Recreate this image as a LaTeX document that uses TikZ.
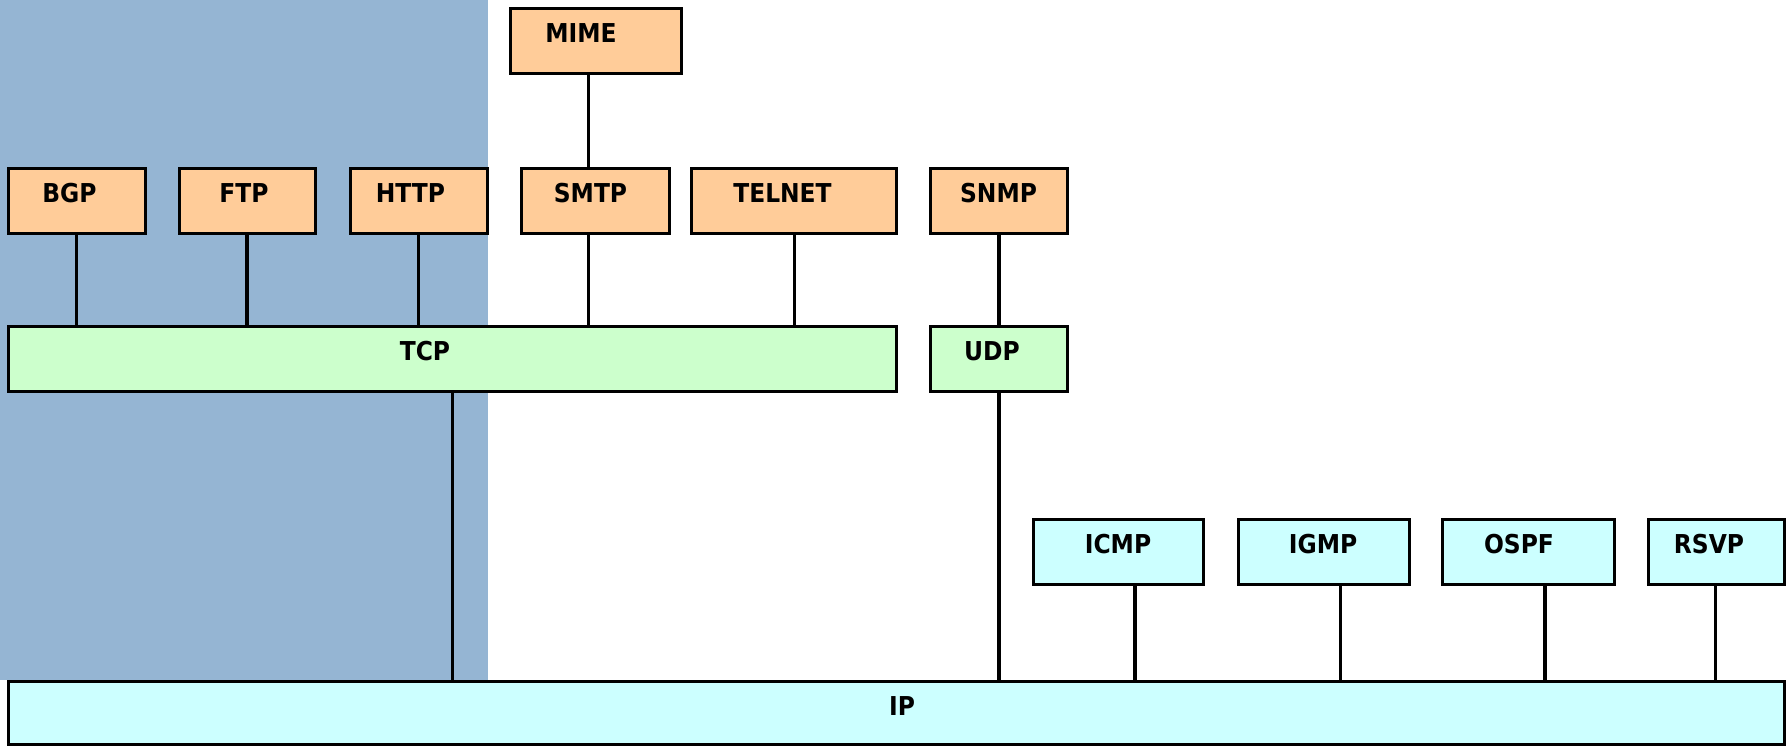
\documentclass[tikz,border=0pt]{standalone}
\usepackage{fontspec}
\newfontfamily\lblfont{DejaVu Sans}[FakeStretch=0.9]
\definecolor{bgblue}{RGB}{149,181,211}
\definecolor{appfill}{RGB}{255,204,153}
\definecolor{trfill}{RGB}{204,255,204}
\definecolor{netfill}{RGB}{204,255,255}
\begin{document}
\begin{tikzpicture}[x=1pt,y=-1pt,
  box/.style={draw=black, line width=3.4pt, rectangle, inner sep=0pt, anchor=north west},
  app/.style={box, fill=appfill},
  tr/.style={box, fill=trfill},
  net/.style={box, fill=netfill},
  lbl/.style={anchor=base, inner sep=0pt, font=\lblfont\bfseries\fontsize{26}{30}\selectfont},
  conn/.style={draw=black, line width=3.4pt}]
\useasboundingbox (0,0) rectangle (1792,745);
\fill[bgblue] (0,0) rectangle (488,680);
\begin{scope}[shift={(-1,-1)}]
% boxes
\node[app, minimum width=171pt, minimum height=65pt] (mime) at (510,8) {};
\node[app, minimum width=137pt, minimum height=65pt] (bgp) at (8,168) {};
\node[app, minimum width=136pt, minimum height=65pt] (ftp) at (179,168) {};
\node[app, minimum width=137pt, minimum height=65pt] (http) at (350,168) {};
\node[app, minimum width=148pt, minimum height=65pt] (smtp) at (521,168) {};
\node[app, minimum width=205pt, minimum height=65pt] (telnet) at (691,168) {};
\node[app, minimum width=137pt, minimum height=65pt] (snmp) at (930,168) {};
\node[tr, minimum width=888pt, minimum height=65pt] (tcp) at (8,326) {};
\node[tr, minimum width=137pt, minimum height=65pt] (udp) at (930,326) {};
\node[net, minimum width=170pt, minimum height=65pt] (icmp) at (1033,519) {};
\node[net, minimum width=171pt, minimum height=65pt] (igmp) at (1238,519) {};
\node[net, minimum width=172pt, minimum height=65pt] (ospf) at (1442,519) {};
\node[net, minimum width=136pt, minimum height=65pt] (rsvp) at (1648,519) {};
\node[net, minimum width=1776pt, minimum height=63pt] (ip) at (8,681) {};
% labels
\node[lbl] (tmime) at (582,43) {MIME};
\node[lbl] (tbgp) at (70.5,203) {BGP};
\node[lbl] (tftp) at (245,203) {FTP};
\node[lbl] (thttp) at (411.5,203) {HTTP};
\node[lbl] (tsmtp) at (591.5,203) {SMTP};
\node[lbl] (ttelnet) at (783.5,203) {TELNET};
\node[lbl] (tsnmp) at (999.5,203) {SNMP};
\node[lbl] (ttcp) at (426,361) {TCP};
\node[lbl] (tudp) at (993,361) {UDP};
\node[lbl] (ticmp) at (1119,554) {ICMP};
\node[lbl] (tigmp) at (1324,554) {IGMP};
\node[lbl] (tospf) at (1520,554) {OSPF};
\node[lbl] (trsvp) at (1710,554) {RSVP};
\node[lbl] (tip) at (903,716) {IP};
% connector x positions
\coordinate (xsmtp) at (589.6,0);
\coordinate (xbgp) at (77.6,0);
\coordinate (xftp) at (248,0);
\coordinate (xhttp) at (419.3,0);
\coordinate (xtelnet) at (795.3,0);
\coordinate (xsnmp) at (1000,0);
\coordinate (xtcp) at (453.6,0);
\coordinate (xicmp) at (1136,0);
\coordinate (xigmp) at (1341.6,0);
\coordinate (xospf) at (1546,0);
\coordinate (xrsvp) at (1716.4,0);
% connectors
\draw[conn] (mime.south -| xsmtp) -- (smtp.north -| xsmtp);
\draw[conn] (bgp.south -| xbgp) -- (tcp.north -| xbgp);
\draw[conn] (ftp.south -| xftp) -- (tcp.north -| xftp);
\draw[conn] (http.south -| xhttp) -- (tcp.north -| xhttp);
\draw[conn] (smtp.south -| xsmtp) -- (tcp.north -| xsmtp);
\draw[conn] (telnet.south -| xtelnet) -- (tcp.north -| xtelnet);
\draw[conn] (snmp.south -| xsnmp) -- (udp.north -| xsnmp);
\draw[conn] (tcp.south -| xtcp) -- (ip.north -| xtcp);
\draw[conn] (udp.south -| xsnmp) -- (ip.north -| xsnmp);
\draw[conn] (icmp.south -| xicmp) -- (ip.north -| xicmp);
\draw[conn] (igmp.south -| xigmp) -- (ip.north -| xigmp);
\draw[conn] (ospf.south -| xospf) -- (ip.north -| xospf);
\draw[conn] (rsvp.south -| xrsvp) -- (ip.north -| xrsvp);
\end{scope}
\end{tikzpicture}
\end{document}
